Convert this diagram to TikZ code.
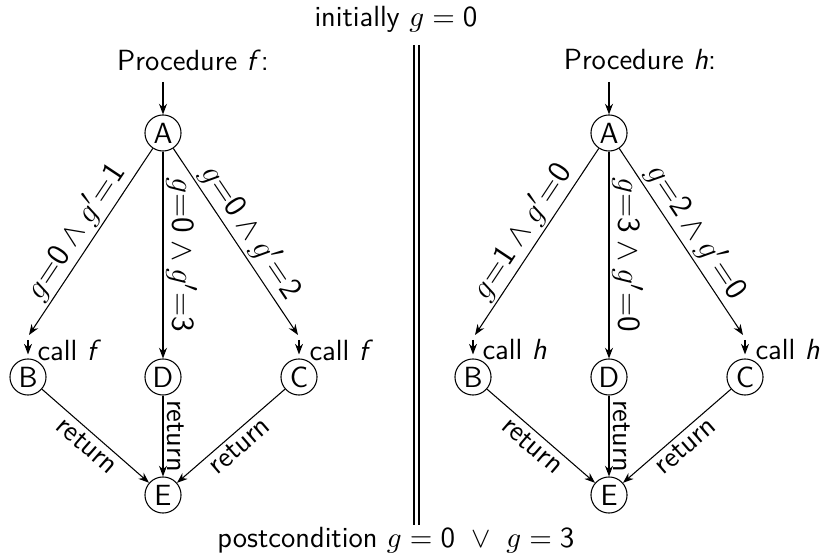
\documentclass[tikz,border=0pt]{standalone}
\usetikzlibrary{arrows.meta}
\DeclareSymbolFont{operators}{OT1}{cmss}{m}{n}
\begin{document}
\begin{tikzpicture}[x=0.377pt,y=-0.377pt,font=\fontsize{11}{13}\selectfont\sffamily,
  st/.style={circle,draw,minimum size=13.6pt,inner sep=0pt},
  ar/.style={-{Stealth[length=4pt,width=3pt]}},
  lab/.style={sloped,midway,inner sep=1.5pt},
  cond/.style={lab,font=\fontsize{13}{15}\selectfont\sffamily,inner sep=1pt},
  calltxt/.style={anchor=west,inner sep=0pt}]
\useasboundingbox (0,0) rectangle (823,555);
% titles
\node (init) at (396,19) {initially $g = 0$};
\node (post) at (396,540) {postcondition $g = 0~\vee~g = 3$};
\coordinate (sepT) at (416.5,45);
\coordinate (sepB) at (416.5,525);
\draw[double,double distance=1.5pt] (sepT) -- (sepB);
% ---------- left procedure f
\node (lP) at (193,60) {Procedure \textit{f}:};
\coordinate (lPs) at (163,82);
\node[st] (lA) at (163,133) {A};
\node[st] (lB) at (28,377) {B};
\node[st] (lD) at (163,377) {D};
\node[st] (lC) at (299,377) {C};
\node[st] (lE) at (163,495) {E};
\coordinate (lBi) at (29,335);
\coordinate (lCi) at (298,335);
\coordinate (lBs) at (28,340);
\coordinate (lCs) at (299,340);
\draw[ar] (lPs) -- (lA);
\draw[ar] (lA) -- node[cond,above] {$g{=}0\wedge g'{=}1$} (lBi);
\draw[ar] (lA) -- node[cond,above] {$g{=}0\wedge g'{=}3$} (lD);
\draw[ar] (lA) -- node[cond,above] {$g{=}0\wedge g'{=}2$} (lCi);
\draw[ar,shorten >=1.5pt] (lBs) -- (lB);
\draw[ar,shorten >=1.5pt] (lCs) -- (lC);
\node[calltxt] (lBc) at (37,350) {call \textit{f}};
\node[calltxt] (lCc) at (309,350) {call \textit{f}};
\draw[ar] (lB) -- node[lab,below] {return} (lE);
\draw[ar] (lD) -- node[lab,above] {return} (lE);
\draw[ar] (lC) -- node[lab,below] {return} (lE);
% ---------- right procedure h
\node (rP) at (640,60) {Procedure \textit{h}:};
\coordinate (rPs) at (609,82);
\node[st] (rA) at (609,133) {A};
\node[st] (rB) at (473,377) {B};
\node[st] (rD) at (609,377) {D};
\node[st] (rC) at (745,377) {C};
\node[st] (rE) at (609,495) {E};
\coordinate (rBi) at (475,335);
\coordinate (rCi) at (743,335);
\coordinate (rBs) at (473,340);
\coordinate (rCs) at (745,340);
\draw[ar] (rPs) -- (rA);
\draw[ar] (rA) -- node[cond,above] {$g{=}1\wedge g'{=}0$} (rBi);
\draw[ar] (rA) -- node[cond,above] {$g{=}3\wedge g'{=}0$} (rD);
\draw[ar] (rA) -- node[cond,above] {$g{=}2\wedge g'{=}0$} (rCi);
\draw[ar,shorten >=1.5pt] (rBs) -- (rB);
\draw[ar,shorten >=1.5pt] (rCs) -- (rC);
\node[calltxt] (rBc) at (482,350) {call \textit{h}};
\node[calltxt] (rCc) at (755,350) {call \textit{h}};
\draw[ar] (rB) -- node[lab,below] {return} (rE);
\draw[ar] (rD) -- node[lab,above] {return} (rE);
\draw[ar] (rC) -- node[lab,below] {return} (rE);
\end{tikzpicture}
\end{document}
